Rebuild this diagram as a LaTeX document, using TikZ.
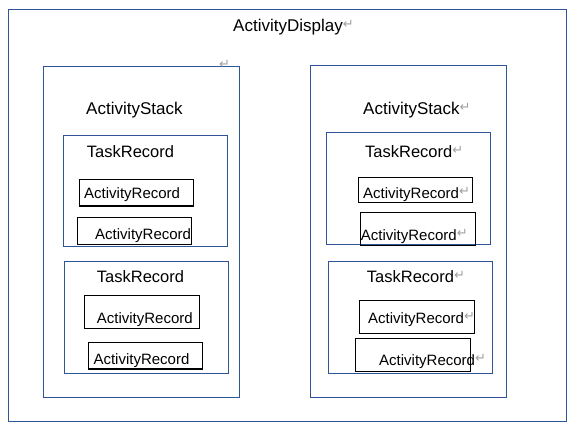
\documentclass[tikz,border=0pt]{standalone}
\usepackage{fontspec}
\setmainfont{Liberation Sans}
\newfontfamily\retfont{DejaVu Sans}
\definecolor{boxblue}{RGB}{47,85,151}
\definecolor{retgray}{RGB}{160,160,160}
\newcommand{\pmark}{\raisebox{2.5pt}{\retfont\fontsize{13}{14}\selectfont\color{retgray}↵}}

\begin{document}
\begin{tikzpicture}[x=1pt,y=-1pt,
  bluebox/.style={draw=boxblue,line width=1pt},
  recbox/.style={draw=black,line width=1.2pt},
  title/.style={anchor=base west,inner sep=0pt,font=\fontsize{17}{20}\selectfont},
  task/.style={anchor=base west,inner sep=0pt,font=\fontsize{16.5}{20}\selectfont},
  rec/.style={anchor=base west,inner sep=0pt,font=\fontsize{15}{18}\selectfont}]
\useasboundingbox[fill=white] (0,0) rectangle (573,428);

% display and stacks
\draw[bluebox] (8,10) rectangle (566,421);
\draw[bluebox] (43.3,66.7) rectangle (239.3,397.5);
\draw[bluebox] (310.7,66) rectangle (506.3,397);
\node[title] (display) at (233,31.5) {ActivityDisplay\pmark};
\node[inner sep=0pt] (ret) at (224.5,66) {\pmark};
\node[title] (stackL) at (86,114) {ActivityStack};
\node[title] (stackR) at (363,114) {ActivityStack\pmark};

% left stack
\draw[bluebox] (63.3,135) rectangle (227.3,246.7);
\draw[bluebox] (64,261.7) rectangle (228.7,373.7);
\node[task] (taskL1) at (86.7,157.5) {TaskRecord};
\node[task] (taskL2) at (96.7,282.3) {TaskRecord};
\draw[recbox] (79.3,179.3) rectangle (193.3,206);
\draw[recbox] (77.3,217.3) rectangle (191.7,244.3);
\draw[recbox] (84.3,295.7) rectangle (199.3,328.3);
\draw[recbox] (88.7,342.3) rectangle (202.7,369);
\node[rec] (recL1) at (84,198.3) {ActivityRecord};
\node[rec] (recL2) at (95,239.3) {ActivityRecord};
\node[rec] (recL3) at (96.7,323.3) {ActivityRecord};
\node[rec] (recL4) at (93.3,364.3) {ActivityRecord};

% right stack
\draw[bluebox] (326.7,132.7) rectangle (490.7,244.3);
\draw[bluebox] (328.7,261) rectangle (492.7,373.3);
\node[task] (taskR1) at (365,157.3) {TaskRecord\pmark};
\node[task] (taskR2) at (366.7,282.3) {TaskRecord\pmark};
\draw[recbox] (358.7,177.3) rectangle (472.3,202.3);
\draw[recbox] (360.3,212.3) rectangle (475.7,245.3);
\draw[recbox] (359.3,300.3) rectangle (474.3,333.3);
\draw[recbox] (355.3,338.3) rectangle (470.7,371.7);
\node[rec] (recR1) at (363,198.3) {ActivityRecord\pmark};
\node[rec] (recR2) at (360.7,240) {ActivityRecord\pmark};
\node[rec] (recR3) at (368,323.3) {ActivityRecord\pmark};
\node[rec] (recR4) at (379,365) {ActivityRecord\pmark};
\end{tikzpicture}
\end{document}
